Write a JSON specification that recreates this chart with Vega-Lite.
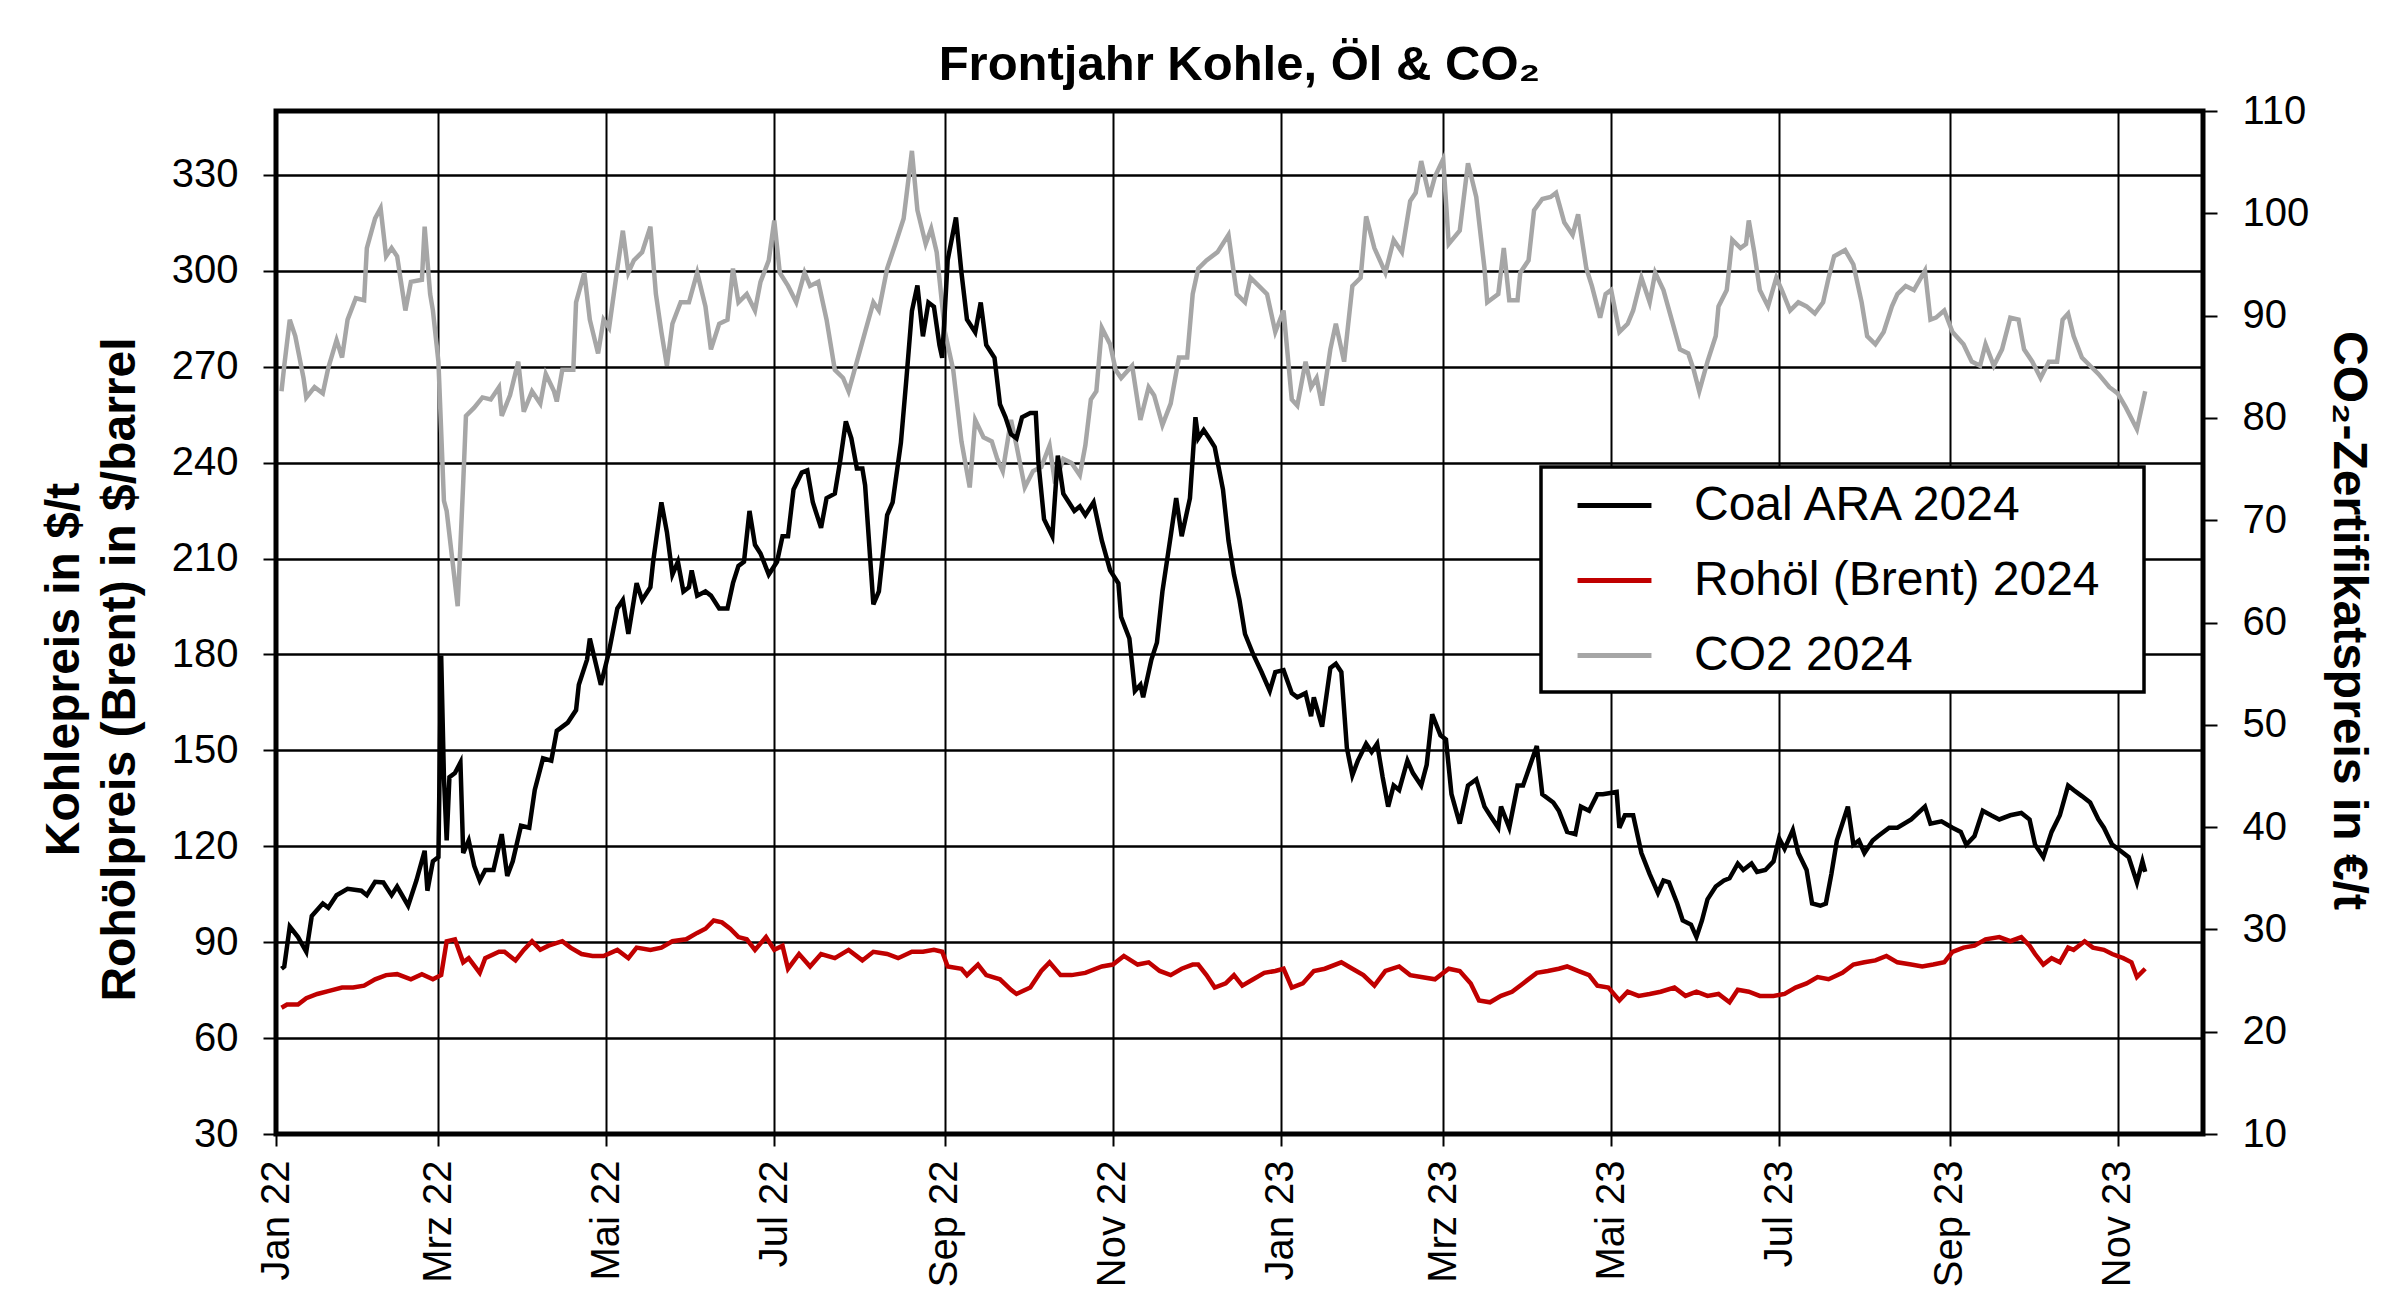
{
  "$schema": "https://vega.github.io/schema/vega-lite/v6.json",
  "width": 1927,
  "height": 1023,
  "autosize": {"type": "none"},
  "padding": {"left": 276, "top": 111, "right": 197, "bottom": 177},
  "background": "#ffffff",
  "title": {
    "text": "Frontjahr Kohle, Öl & CO₂",
    "font": "Liberation Sans",
    "fontSize": 49,
    "fontWeight": "bold",
    "color": "#000000",
    "anchor": "middle",
    "baseline": "alphabetic",
    "offset": 33,
    "dy": 71
  },
  "datasets": {
    "co2": [
      {"date": "2022-01-03", "value": 82.6}, {"date": "2022-01-04", "value": 85.1}, {"date": "2022-01-06", "value": 89.6},
      {"date": "2022-01-08", "value": 88}, {"date": "2022-01-11", "value": 83.9}, {"date": "2022-01-12", "value": 82},
      {"date": "2022-01-15", "value": 83}, {"date": "2022-01-18", "value": 82.4}, {"date": "2022-01-20", "value": 84.9},
      {"date": "2022-01-23", "value": 87.6}, {"date": "2022-01-25", "value": 85.9}, {"date": "2022-01-27", "value": 89.6},
      {"date": "2022-01-30", "value": 91.7}, {"date": "2022-02-02", "value": 91.5}, {"date": "2022-02-03", "value": 96.6},
      {"date": "2022-02-06", "value": 99.5}, {"date": "2022-02-08", "value": 100.5}, {"date": "2022-02-10", "value": 95.8},
      {"date": "2022-02-12", "value": 96.6}, {"date": "2022-02-14", "value": 95.8}, {"date": "2022-02-17", "value": 90.5},
      {"date": "2022-02-19", "value": 93.3}, {"date": "2022-02-23", "value": 93.5}, {"date": "2022-02-24", "value": 98.7},
      {"date": "2022-02-26", "value": 92.1}, {"date": "2022-02-27", "value": 90.5}, {"date": "2022-03-01", "value": 85.5},
      {"date": "2022-03-03", "value": 71.9}, {"date": "2022-03-04", "value": 70.9}, {"date": "2022-03-08", "value": 61.6},
      {"date": "2022-03-10", "value": 73.6}, {"date": "2022-03-11", "value": 80.2}, {"date": "2022-03-14", "value": 81},
      {"date": "2022-03-17", "value": 82}, {"date": "2022-03-20", "value": 81.8}, {"date": "2022-03-23", "value": 83},
      {"date": "2022-03-24", "value": 80.2}, {"date": "2022-03-27", "value": 82.2}, {"date": "2022-03-30", "value": 85.5},
      {"date": "2022-04-01", "value": 80.6}, {"date": "2022-04-04", "value": 82.6}, {"date": "2022-04-07", "value": 81.4},
      {"date": "2022-04-09", "value": 84.3}, {"date": "2022-04-12", "value": 82.6}, {"date": "2022-04-13", "value": 81.6},
      {"date": "2022-04-15", "value": 84.7}, {"date": "2022-04-19", "value": 84.7}, {"date": "2022-04-20", "value": 91.3},
      {"date": "2022-04-23", "value": 94.2}, {"date": "2022-04-25", "value": 89.6}, {"date": "2022-04-28", "value": 86.3},
      {"date": "2022-04-30", "value": 89.6}, {"date": "2022-05-02", "value": 88.8}, {"date": "2022-05-05", "value": 94.6},
      {"date": "2022-05-07", "value": 98.3}, {"date": "2022-05-09", "value": 94.2}, {"date": "2022-05-11", "value": 95.4},
      {"date": "2022-05-14", "value": 96.2}, {"date": "2022-05-17", "value": 98.7}, {"date": "2022-05-19", "value": 92.1},
      {"date": "2022-05-21", "value": 88.4}, {"date": "2022-05-23", "value": 85.1}, {"date": "2022-05-25", "value": 89.2},
      {"date": "2022-05-28", "value": 91.3}, {"date": "2022-05-31", "value": 91.3}, {"date": "2022-06-03", "value": 94.2},
      {"date": "2022-06-06", "value": 90.9}, {"date": "2022-06-08", "value": 86.7}, {"date": "2022-06-11", "value": 89.2},
      {"date": "2022-06-14", "value": 89.6}, {"date": "2022-06-16", "value": 94.6}, {"date": "2022-06-18", "value": 91.3},
      {"date": "2022-06-21", "value": 92.1}, {"date": "2022-06-24", "value": 90.5}, {"date": "2022-06-26", "value": 93.3},
      {"date": "2022-06-29", "value": 95.4}, {"date": "2022-07-01", "value": 99.3}, {"date": "2022-07-03", "value": 94.2},
      {"date": "2022-07-06", "value": 92.9}, {"date": "2022-07-09", "value": 91.3}, {"date": "2022-07-12", "value": 94.2},
      {"date": "2022-07-14", "value": 92.9}, {"date": "2022-07-17", "value": 93.3}, {"date": "2022-07-20", "value": 89.6},
      {"date": "2022-07-23", "value": 84.7}, {"date": "2022-07-26", "value": 83.9}, {"date": "2022-07-28", "value": 82.6},
      {"date": "2022-07-31", "value": 85.5}, {"date": "2022-08-03", "value": 88.4}, {"date": "2022-08-06", "value": 91.3},
      {"date": "2022-08-08", "value": 90.5}, {"date": "2022-08-11", "value": 94.6}, {"date": "2022-08-14", "value": 97},
      {"date": "2022-08-17", "value": 99.5}, {"date": "2022-08-20", "value": 106.1}, {"date": "2022-08-22", "value": 100.3},
      {"date": "2022-08-25", "value": 97}, {"date": "2022-08-27", "value": 98.5}, {"date": "2022-08-29", "value": 96.2},
      {"date": "2022-09-01", "value": 88.4}, {"date": "2022-09-04", "value": 84.7}, {"date": "2022-09-07", "value": 77.7},
      {"date": "2022-09-10", "value": 73.2}, {"date": "2022-09-12", "value": 79.8}, {"date": "2022-09-15", "value": 78.1},
      {"date": "2022-09-18", "value": 77.7}, {"date": "2022-09-20", "value": 76}, {"date": "2022-09-22", "value": 74.8},
      {"date": "2022-09-25", "value": 79.8}, {"date": "2022-09-27", "value": 77.3}, {"date": "2022-09-30", "value": 73.2},
      {"date": "2022-10-03", "value": 74.8}, {"date": "2022-10-06", "value": 75.2}, {"date": "2022-10-09", "value": 77.3},
      {"date": "2022-10-11", "value": 73.6}, {"date": "2022-10-14", "value": 76}, {"date": "2022-10-17", "value": 75.6},
      {"date": "2022-10-20", "value": 74.4}, {"date": "2022-10-22", "value": 77.3}, {"date": "2022-10-24", "value": 81.8},
      {"date": "2022-10-26", "value": 82.6}, {"date": "2022-10-28", "value": 88.8}, {"date": "2022-10-31", "value": 87.2},
      {"date": "2022-11-02", "value": 84.7}, {"date": "2022-11-04", "value": 83.9}, {"date": "2022-11-08", "value": 85.1},
      {"date": "2022-11-11", "value": 79.8}, {"date": "2022-11-14", "value": 83}, {"date": "2022-11-16", "value": 82.2},
      {"date": "2022-11-19", "value": 79.3}, {"date": "2022-11-22", "value": 81.4}, {"date": "2022-11-25", "value": 85.9},
      {"date": "2022-11-28", "value": 85.9}, {"date": "2022-11-30", "value": 92.1}, {"date": "2022-12-02", "value": 94.6},
      {"date": "2022-12-05", "value": 95.4}, {"date": "2022-12-09", "value": 96.2}, {"date": "2022-12-13", "value": 97.9},
      {"date": "2022-12-16", "value": 92.1}, {"date": "2022-12-19", "value": 91.3}, {"date": "2022-12-21", "value": 93.7},
      {"date": "2022-12-24", "value": 92.9}, {"date": "2022-12-27", "value": 92.1}, {"date": "2022-12-30", "value": 88.4},
      {"date": "2023-01-02", "value": 90.5}, {"date": "2023-01-05", "value": 81.8}, {"date": "2023-01-07", "value": 81.2},
      {"date": "2023-01-10", "value": 85.5}, {"date": "2023-01-12", "value": 83}, {"date": "2023-01-14", "value": 83.9},
      {"date": "2023-01-16", "value": 81.2}, {"date": "2023-01-19", "value": 86.7}, {"date": "2023-01-21", "value": 89.2},
      {"date": "2023-01-24", "value": 85.5}, {"date": "2023-01-27", "value": 92.9}, {"date": "2023-01-30", "value": 93.7},
      {"date": "2023-02-01", "value": 99.7}, {"date": "2023-02-04", "value": 96.6}, {"date": "2023-02-08", "value": 94.2},
      {"date": "2023-02-11", "value": 97.4}, {"date": "2023-02-14", "value": 96.2}, {"date": "2023-02-17", "value": 101.2},
      {"date": "2023-02-19", "value": 102}, {"date": "2023-02-21", "value": 105.1}, {"date": "2023-02-24", "value": 101.6},
      {"date": "2023-02-26", "value": 103.6}, {"date": "2023-03-01", "value": 105.3}, {"date": "2023-03-03", "value": 97},
      {"date": "2023-03-07", "value": 98.3}, {"date": "2023-03-10", "value": 104.9}, {"date": "2023-03-13", "value": 101.6},
      {"date": "2023-03-16", "value": 94.6}, {"date": "2023-03-17", "value": 91.3}, {"date": "2023-03-21", "value": 92.1},
      {"date": "2023-03-23", "value": 96.6}, {"date": "2023-03-25", "value": 91.5}, {"date": "2023-03-28", "value": 91.5},
      {"date": "2023-03-29", "value": 94.2}, {"date": "2023-04-01", "value": 95.4}, {"date": "2023-04-03", "value": 100.3},
      {"date": "2023-04-06", "value": 101.4}, {"date": "2023-04-09", "value": 101.6}, {"date": "2023-04-11", "value": 102},
      {"date": "2023-04-14", "value": 99.1}, {"date": "2023-04-17", "value": 97.9}, {"date": "2023-04-19", "value": 99.9},
      {"date": "2023-04-22", "value": 94.6}, {"date": "2023-04-24", "value": 92.9}, {"date": "2023-04-27", "value": 89.8},
      {"date": "2023-04-29", "value": 92.1}, {"date": "2023-05-01", "value": 92.5}, {"date": "2023-05-04", "value": 88.4},
      {"date": "2023-05-07", "value": 89.2}, {"date": "2023-05-09", "value": 90.5}, {"date": "2023-05-12", "value": 93.7},
      {"date": "2023-05-15", "value": 91.3}, {"date": "2023-05-17", "value": 94.2}, {"date": "2023-05-20", "value": 92.5},
      {"date": "2023-05-23", "value": 89.6}, {"date": "2023-05-26", "value": 86.7}, {"date": "2023-05-29", "value": 86.3},
      {"date": "2023-05-31", "value": 84.7}, {"date": "2023-06-02", "value": 82.6}, {"date": "2023-06-05", "value": 85.5},
      {"date": "2023-06-08", "value": 88}, {"date": "2023-06-09", "value": 90.9}, {"date": "2023-06-12", "value": 92.5},
      {"date": "2023-06-14", "value": 97.4}, {"date": "2023-06-17", "value": 96.6}, {"date": "2023-06-19", "value": 97},
      {"date": "2023-06-20", "value": 99.3}, {"date": "2023-06-22", "value": 96.2}, {"date": "2023-06-24", "value": 92.5},
      {"date": "2023-06-27", "value": 90.9}, {"date": "2023-06-30", "value": 93.7}, {"date": "2023-07-02", "value": 92.5},
      {"date": "2023-07-05", "value": 90.5}, {"date": "2023-07-08", "value": 91.3}, {"date": "2023-07-11", "value": 90.9},
      {"date": "2023-07-14", "value": 90.2}, {"date": "2023-07-17", "value": 91.3}, {"date": "2023-07-19", "value": 93.7},
      {"date": "2023-07-21", "value": 95.8}, {"date": "2023-07-25", "value": 96.4}, {"date": "2023-07-28", "value": 95},
      {"date": "2023-07-31", "value": 91.3}, {"date": "2023-08-02", "value": 88}, {"date": "2023-08-05", "value": 87.2},
      {"date": "2023-08-08", "value": 88.4}, {"date": "2023-08-11", "value": 90.9}, {"date": "2023-08-13", "value": 92.1},
      {"date": "2023-08-16", "value": 92.9}, {"date": "2023-08-19", "value": 92.5}, {"date": "2023-08-23", "value": 94.4},
      {"date": "2023-08-25", "value": 89.6}, {"date": "2023-08-27", "value": 89.8}, {"date": "2023-08-30", "value": 90.5},
      {"date": "2023-09-02", "value": 88.4}, {"date": "2023-09-06", "value": 87.2}, {"date": "2023-09-09", "value": 85.5},
      {"date": "2023-09-12", "value": 85.1}, {"date": "2023-09-14", "value": 87.2}, {"date": "2023-09-17", "value": 85.1},
      {"date": "2023-09-20", "value": 86.7}, {"date": "2023-09-23", "value": 89.8}, {"date": "2023-09-26", "value": 89.6},
      {"date": "2023-09-28", "value": 86.7}, {"date": "2023-10-01", "value": 85.5}, {"date": "2023-10-04", "value": 83.9},
      {"date": "2023-10-07", "value": 85.5}, {"date": "2023-10-10", "value": 85.5}, {"date": "2023-10-12", "value": 89.6},
      {"date": "2023-10-14", "value": 90.2}, {"date": "2023-10-16", "value": 88}, {"date": "2023-10-19", "value": 85.9},
      {"date": "2023-10-22", "value": 85.1}, {"date": "2023-10-25", "value": 84.3}, {"date": "2023-10-29", "value": 83},
      {"date": "2023-11-01", "value": 82.4}, {"date": "2023-11-04", "value": 81}, {"date": "2023-11-08", "value": 78.9},
      {"date": "2023-11-11", "value": 82.6}
    ],
    "coal": [
      {"date": "2022-01-03", "value": 81.7}, {"date": "2022-01-04", "value": 82.4}, {"date": "2022-01-06", "value": 94.9},
      {"date": "2022-01-09", "value": 91.6}, {"date": "2022-01-12", "value": 87}, {"date": "2022-01-14", "value": 98.2},
      {"date": "2022-01-18", "value": 102.1}, {"date": "2022-01-20", "value": 100.8}, {"date": "2022-01-23", "value": 104.7},
      {"date": "2022-01-27", "value": 106.7}, {"date": "2022-02-01", "value": 106.1}, {"date": "2022-02-03", "value": 104.7},
      {"date": "2022-02-06", "value": 108.9}, {"date": "2022-02-09", "value": 108.7}, {"date": "2022-02-12", "value": 104.7},
      {"date": "2022-02-14", "value": 107.4}, {"date": "2022-02-18", "value": 101.4}, {"date": "2022-02-21", "value": 109.3},
      {"date": "2022-02-24", "value": 118.6}, {"date": "2022-02-25", "value": 106.1}, {"date": "2022-02-27", "value": 115.3},
      {"date": "2022-03-01", "value": 116.6}, {"date": "2022-03-02", "value": 179.7}, {"date": "2022-03-03", "value": 141.6},
      {"date": "2022-03-04", "value": 121.8}, {"date": "2022-03-05", "value": 141.6}, {"date": "2022-03-07", "value": 142.9},
      {"date": "2022-03-09", "value": 146.2}, {"date": "2022-03-10", "value": 117.9}, {"date": "2022-03-12", "value": 121.8},
      {"date": "2022-03-14", "value": 113.9}, {"date": "2022-03-16", "value": 109.3}, {"date": "2022-03-18", "value": 112.6},
      {"date": "2022-03-21", "value": 112.6}, {"date": "2022-03-24", "value": 123.8}, {"date": "2022-03-26", "value": 110.7},
      {"date": "2022-03-28", "value": 115.3}, {"date": "2022-03-31", "value": 126.4}, {"date": "2022-04-03", "value": 125.8},
      {"date": "2022-04-05", "value": 137.6}, {"date": "2022-04-08", "value": 147.5}, {"date": "2022-04-11", "value": 146.8},
      {"date": "2022-04-13", "value": 156.1}, {"date": "2022-04-17", "value": 158.7}, {"date": "2022-04-20", "value": 162.6},
      {"date": "2022-04-21", "value": 170.5}, {"date": "2022-04-24", "value": 178.4}, {"date": "2022-04-25", "value": 185},
      {"date": "2022-04-29", "value": 170.5}, {"date": "2022-05-02", "value": 181}, {"date": "2022-05-05", "value": 194.4},
      {"date": "2022-05-07", "value": 197}, {"date": "2022-05-09", "value": 186.4}, {"date": "2022-05-12", "value": 202.3},
      {"date": "2022-05-14", "value": 197}, {"date": "2022-05-17", "value": 201}, {"date": "2022-05-18", "value": 209},
      {"date": "2022-05-21", "value": 227.6}, {"date": "2022-05-23", "value": 218.3}, {"date": "2022-05-25", "value": 205},
      {"date": "2022-05-27", "value": 209}, {"date": "2022-05-29", "value": 199.7}, {"date": "2022-05-31", "value": 201},
      {"date": "2022-06-01", "value": 206.3}, {"date": "2022-06-03", "value": 198.4}, {"date": "2022-06-06", "value": 199.7},
      {"date": "2022-06-08", "value": 198.4}, {"date": "2022-06-11", "value": 194.4}, {"date": "2022-06-14", "value": 194.4},
      {"date": "2022-06-16", "value": 202.3}, {"date": "2022-06-18", "value": 207.7}, {"date": "2022-06-20", "value": 209},
      {"date": "2022-06-22", "value": 224.9}, {"date": "2022-06-24", "value": 214.3}, {"date": "2022-06-26", "value": 211.6},
      {"date": "2022-06-29", "value": 205}, {"date": "2022-07-02", "value": 209}, {"date": "2022-07-04", "value": 217},
      {"date": "2022-07-06", "value": 217}, {"date": "2022-07-08", "value": 231.6}, {"date": "2022-07-11", "value": 236.9},
      {"date": "2022-07-13", "value": 237.6}, {"date": "2022-07-15", "value": 227.6}, {"date": "2022-07-18", "value": 219.6},
      {"date": "2022-07-20", "value": 228.9}, {"date": "2022-07-23", "value": 230.3}, {"date": "2022-07-25", "value": 240.9},
      {"date": "2022-07-27", "value": 252.9}, {"date": "2022-07-29", "value": 247.6}, {"date": "2022-07-31", "value": 238.2},
      {"date": "2022-08-02", "value": 238.2}, {"date": "2022-08-03", "value": 232.9}, {"date": "2022-08-06", "value": 195.7},
      {"date": "2022-08-08", "value": 199.7}, {"date": "2022-08-11", "value": 223.6}, {"date": "2022-08-13", "value": 227.6},
      {"date": "2022-08-16", "value": 246.2}, {"date": "2022-08-18", "value": 266.2}, {"date": "2022-08-20", "value": 287.4},
      {"date": "2022-08-22", "value": 295.4}, {"date": "2022-08-24", "value": 279.5}, {"date": "2022-08-26", "value": 290.1},
      {"date": "2022-08-28", "value": 288.8}, {"date": "2022-08-30", "value": 276.8}, {"date": "2022-08-31", "value": 272.8},
      {"date": "2022-09-02", "value": 303.4}, {"date": "2022-09-05", "value": 316.7}, {"date": "2022-09-07", "value": 299.4},
      {"date": "2022-09-09", "value": 284.8}, {"date": "2022-09-12", "value": 280.8}, {"date": "2022-09-14", "value": 290.1},
      {"date": "2022-09-16", "value": 276.8}, {"date": "2022-09-19", "value": 272.8}, {"date": "2022-09-21", "value": 258.2},
      {"date": "2022-09-23", "value": 254.2}, {"date": "2022-09-25", "value": 248.9}, {"date": "2022-09-27", "value": 247.6},
      {"date": "2022-09-29", "value": 254.2}, {"date": "2022-10-02", "value": 255.5}, {"date": "2022-10-04", "value": 255.5},
      {"date": "2022-10-05", "value": 239.6}, {"date": "2022-10-07", "value": 222.3}, {"date": "2022-10-10", "value": 217},
      {"date": "2022-10-12", "value": 242.2}, {"date": "2022-10-14", "value": 230.3}, {"date": "2022-10-16", "value": 227.6},
      {"date": "2022-10-18", "value": 224.9}, {"date": "2022-10-20", "value": 226.3}, {"date": "2022-10-22", "value": 223.6},
      {"date": "2022-10-25", "value": 227.6}, {"date": "2022-10-28", "value": 215.6}, {"date": "2022-10-31", "value": 206.3},
      {"date": "2022-11-03", "value": 202.3}, {"date": "2022-11-04", "value": 191.7}, {"date": "2022-11-07", "value": 185},
      {"date": "2022-11-09", "value": 168.6}, {"date": "2022-11-11", "value": 170.5}, {"date": "2022-11-12", "value": 166.6},
      {"date": "2022-11-15", "value": 178.4}, {"date": "2022-11-17", "value": 183.7}, {"date": "2022-11-19", "value": 199.7},
      {"date": "2022-11-22", "value": 217}, {"date": "2022-11-24", "value": 228.9}, {"date": "2022-11-26", "value": 217},
      {"date": "2022-11-29", "value": 228.9}, {"date": "2022-12-01", "value": 254.2}, {"date": "2022-12-02", "value": 247.6},
      {"date": "2022-12-04", "value": 250.2}, {"date": "2022-12-06", "value": 247.6}, {"date": "2022-12-08", "value": 244.9},
      {"date": "2022-12-11", "value": 231.6}, {"date": "2022-12-13", "value": 215.6}, {"date": "2022-12-15", "value": 205},
      {"date": "2022-12-17", "value": 197}, {"date": "2022-12-19", "value": 186.4}, {"date": "2022-12-22", "value": 180},
      {"date": "2022-12-25", "value": 174.5}, {"date": "2022-12-28", "value": 168.6}, {"date": "2022-12-30", "value": 174.5},
      {"date": "2023-01-02", "value": 175.1}, {"date": "2023-01-05", "value": 167.9}, {"date": "2023-01-07", "value": 166.6},
      {"date": "2023-01-10", "value": 167.9}, {"date": "2023-01-12", "value": 160.7}, {"date": "2023-01-13", "value": 166.6},
      {"date": "2023-01-16", "value": 157.4}, {"date": "2023-01-19", "value": 175.8}, {"date": "2023-01-21", "value": 177.1},
      {"date": "2023-01-23", "value": 174.5}, {"date": "2023-01-25", "value": 150.8}, {"date": "2023-01-27", "value": 142.2},
      {"date": "2023-01-29", "value": 146.8}, {"date": "2023-02-01", "value": 152.1}, {"date": "2023-02-03", "value": 149.5},
      {"date": "2023-02-05", "value": 152.1}, {"date": "2023-02-07", "value": 141.6}, {"date": "2023-02-09", "value": 132.4},
      {"date": "2023-02-11", "value": 139}, {"date": "2023-02-13", "value": 137.6}, {"date": "2023-02-16", "value": 146.8},
      {"date": "2023-02-18", "value": 142.9}, {"date": "2023-02-21", "value": 139}, {"date": "2023-02-23", "value": 145.5},
      {"date": "2023-02-25", "value": 161.3}, {"date": "2023-02-28", "value": 154.7}, {"date": "2023-03-02", "value": 153.4},
      {"date": "2023-03-04", "value": 136.3}, {"date": "2023-03-07", "value": 127.1}, {"date": "2023-03-10", "value": 139},
      {"date": "2023-03-13", "value": 140.9}, {"date": "2023-03-16", "value": 132.4}, {"date": "2023-03-18", "value": 129.7},
      {"date": "2023-03-21", "value": 125.8}, {"date": "2023-03-22", "value": 132.4}, {"date": "2023-03-25", "value": 125.8},
      {"date": "2023-03-28", "value": 139}, {"date": "2023-03-30", "value": 139}, {"date": "2023-04-04", "value": 151.4},
      {"date": "2023-04-06", "value": 136.3}, {"date": "2023-04-10", "value": 133.7}, {"date": "2023-04-12", "value": 131.1},
      {"date": "2023-04-15", "value": 124.5}, {"date": "2023-04-18", "value": 123.8}, {"date": "2023-04-20", "value": 132.4},
      {"date": "2023-04-23", "value": 131.1}, {"date": "2023-04-26", "value": 136.3}, {"date": "2023-04-28", "value": 136.3},
      {"date": "2023-05-03", "value": 137}, {"date": "2023-05-04", "value": 125.8}, {"date": "2023-05-06", "value": 129.7},
      {"date": "2023-05-09", "value": 129.7}, {"date": "2023-05-12", "value": 117.9}, {"date": "2023-05-15", "value": 111.3},
      {"date": "2023-05-18", "value": 105.4}, {"date": "2023-05-20", "value": 109.3}, {"date": "2023-05-22", "value": 108.7},
      {"date": "2023-05-25", "value": 102.1}, {"date": "2023-05-27", "value": 96.8}, {"date": "2023-05-30", "value": 95.5},
      {"date": "2023-06-01", "value": 91.6}, {"date": "2023-06-03", "value": 96.8}, {"date": "2023-06-05", "value": 103.4},
      {"date": "2023-06-08", "value": 107.4}, {"date": "2023-06-11", "value": 109.3}, {"date": "2023-06-13", "value": 110},
      {"date": "2023-06-16", "value": 114.6}, {"date": "2023-06-18", "value": 112.6}, {"date": "2023-06-21", "value": 114.6},
      {"date": "2023-06-23", "value": 112}, {"date": "2023-06-26", "value": 112.6}, {"date": "2023-06-29", "value": 115.3},
      {"date": "2023-07-01", "value": 122.5}, {"date": "2023-07-03", "value": 119.2}, {"date": "2023-07-06", "value": 125.1},
      {"date": "2023-07-08", "value": 117.9}, {"date": "2023-07-11", "value": 112.6}, {"date": "2023-07-13", "value": 102.1},
      {"date": "2023-07-16", "value": 101.4}, {"date": "2023-07-18", "value": 102.1}, {"date": "2023-07-20", "value": 111.3},
      {"date": "2023-07-22", "value": 121.8}, {"date": "2023-07-26", "value": 132.4}, {"date": "2023-07-28", "value": 120.5},
      {"date": "2023-07-30", "value": 121.8}, {"date": "2023-08-01", "value": 117.9}, {"date": "2023-08-04", "value": 121.8},
      {"date": "2023-08-06", "value": 123.2}, {"date": "2023-08-10", "value": 125.8}, {"date": "2023-08-13", "value": 125.8},
      {"date": "2023-08-18", "value": 128.4}, {"date": "2023-08-23", "value": 132.4}, {"date": "2023-08-25", "value": 127.1},
      {"date": "2023-08-29", "value": 127.8}, {"date": "2023-09-02", "value": 125.8}, {"date": "2023-09-05", "value": 124.5},
      {"date": "2023-09-07", "value": 120.5}, {"date": "2023-09-10", "value": 123.2}, {"date": "2023-09-13", "value": 131.1},
      {"date": "2023-09-16", "value": 129.7}, {"date": "2023-09-19", "value": 128.4}, {"date": "2023-09-23", "value": 129.7},
      {"date": "2023-09-27", "value": 130.4}, {"date": "2023-09-30", "value": 128.4}, {"date": "2023-10-02", "value": 120.5},
      {"date": "2023-10-05", "value": 116.6}, {"date": "2023-10-08", "value": 124.5}, {"date": "2023-10-11", "value": 129.7},
      {"date": "2023-10-14", "value": 139}, {"date": "2023-10-16", "value": 137.6}, {"date": "2023-10-19", "value": 135.7},
      {"date": "2023-10-22", "value": 133.7}, {"date": "2023-10-25", "value": 128.4}, {"date": "2023-10-27", "value": 125.8},
      {"date": "2023-10-30", "value": 120.5}, {"date": "2023-11-02", "value": 118.6}, {"date": "2023-11-05", "value": 116.6},
      {"date": "2023-11-08", "value": 108.7}, {"date": "2023-11-10", "value": 115.3}, {"date": "2023-11-11", "value": 112}
    ],
    "oil": [
      {"date": "2022-01-03", "value": 69.5}, {"date": "2022-01-05", "value": 70.5}, {"date": "2022-01-09", "value": 70.5},
      {"date": "2022-01-12", "value": 72.5}, {"date": "2022-01-16", "value": 73.8}, {"date": "2022-01-20", "value": 74.7},
      {"date": "2022-01-25", "value": 75.8}, {"date": "2022-01-29", "value": 75.8}, {"date": "2022-02-02", "value": 76.4},
      {"date": "2022-02-06", "value": 78.4}, {"date": "2022-02-10", "value": 79.7}, {"date": "2022-02-14", "value": 80},
      {"date": "2022-02-19", "value": 78.4}, {"date": "2022-02-23", "value": 80}, {"date": "2022-02-27", "value": 78.4},
      {"date": "2022-03-02", "value": 79.7}, {"date": "2022-03-04", "value": 90.3}, {"date": "2022-03-07", "value": 90.9},
      {"date": "2022-03-10", "value": 83.7}, {"date": "2022-03-12", "value": 85}, {"date": "2022-03-16", "value": 80.4},
      {"date": "2022-03-18", "value": 85}, {"date": "2022-03-23", "value": 87}, {"date": "2022-03-25", "value": 87},
      {"date": "2022-03-29", "value": 84.3}, {"date": "2022-04-01", "value": 87.6}, {"date": "2022-04-04", "value": 90.3},
      {"date": "2022-04-07", "value": 87.6}, {"date": "2022-04-10", "value": 88.9}, {"date": "2022-04-15", "value": 90.3},
      {"date": "2022-04-18", "value": 88.3}, {"date": "2022-04-22", "value": 86.3}, {"date": "2022-04-26", "value": 85.7},
      {"date": "2022-04-30", "value": 85.7}, {"date": "2022-05-05", "value": 87.6}, {"date": "2022-05-09", "value": 85},
      {"date": "2022-05-12", "value": 88.3}, {"date": "2022-05-17", "value": 87.6}, {"date": "2022-05-21", "value": 88.3},
      {"date": "2022-05-25", "value": 90.3}, {"date": "2022-05-30", "value": 90.9}, {"date": "2022-06-03", "value": 92.9},
      {"date": "2022-06-06", "value": 94.2}, {"date": "2022-06-09", "value": 96.8}, {"date": "2022-06-12", "value": 96.2},
      {"date": "2022-06-15", "value": 94.2}, {"date": "2022-06-18", "value": 91.6}, {"date": "2022-06-21", "value": 90.9},
      {"date": "2022-06-24", "value": 87.6}, {"date": "2022-06-28", "value": 91.6}, {"date": "2022-07-01", "value": 87.6},
      {"date": "2022-07-04", "value": 88.9}, {"date": "2022-07-06", "value": 81.7}, {"date": "2022-07-10", "value": 86.3},
      {"date": "2022-07-14", "value": 82.4}, {"date": "2022-07-18", "value": 86.3}, {"date": "2022-07-23", "value": 85},
      {"date": "2022-07-28", "value": 87.6}, {"date": "2022-08-02", "value": 84.3}, {"date": "2022-08-06", "value": 87},
      {"date": "2022-08-11", "value": 86.3}, {"date": "2022-08-15", "value": 85}, {"date": "2022-08-20", "value": 87},
      {"date": "2022-08-24", "value": 87}, {"date": "2022-08-28", "value": 87.6}, {"date": "2022-08-31", "value": 87},
      {"date": "2022-09-02", "value": 82.4}, {"date": "2022-09-07", "value": 81.7}, {"date": "2022-09-09", "value": 79.7},
      {"date": "2022-09-13", "value": 83}, {"date": "2022-09-16", "value": 79.7}, {"date": "2022-09-21", "value": 78.4},
      {"date": "2022-09-25", "value": 75.1}, {"date": "2022-09-27", "value": 73.8}, {"date": "2022-10-02", "value": 75.8},
      {"date": "2022-10-06", "value": 81}, {"date": "2022-10-09", "value": 83.7}, {"date": "2022-10-13", "value": 79.7},
      {"date": "2022-10-17", "value": 79.7}, {"date": "2022-10-22", "value": 80.4}, {"date": "2022-10-28", "value": 82.4},
      {"date": "2022-11-01", "value": 83}, {"date": "2022-11-05", "value": 85.7}, {"date": "2022-11-10", "value": 83},
      {"date": "2022-11-14", "value": 83.7}, {"date": "2022-11-18", "value": 81}, {"date": "2022-11-22", "value": 79.7},
      {"date": "2022-11-26", "value": 81.7}, {"date": "2022-11-30", "value": 83}, {"date": "2022-12-02", "value": 83},
      {"date": "2022-12-05", "value": 79.7}, {"date": "2022-12-08", "value": 75.8}, {"date": "2022-12-12", "value": 77.1},
      {"date": "2022-12-15", "value": 79.7}, {"date": "2022-12-18", "value": 76.4}, {"date": "2022-12-22", "value": 78.4},
      {"date": "2022-12-26", "value": 80.4}, {"date": "2022-12-30", "value": 81}, {"date": "2023-01-02", "value": 81.7},
      {"date": "2023-01-05", "value": 75.8}, {"date": "2023-01-09", "value": 77.1}, {"date": "2023-01-13", "value": 81},
      {"date": "2023-01-17", "value": 81.7}, {"date": "2023-01-23", "value": 83.7}, {"date": "2023-01-27", "value": 81.7},
      {"date": "2023-01-31", "value": 79.7}, {"date": "2023-02-04", "value": 76.4}, {"date": "2023-02-08", "value": 81},
      {"date": "2023-02-13", "value": 82.4}, {"date": "2023-02-17", "value": 79.7}, {"date": "2023-02-21", "value": 79.1},
      {"date": "2023-02-26", "value": 78.4}, {"date": "2023-03-03", "value": 81.7}, {"date": "2023-03-07", "value": 81},
      {"date": "2023-03-11", "value": 77.1}, {"date": "2023-03-14", "value": 71.8}, {"date": "2023-03-18", "value": 71.2},
      {"date": "2023-03-22", "value": 73.2}, {"date": "2023-03-26", "value": 74.5}, {"date": "2023-03-30", "value": 77.1},
      {"date": "2023-04-04", "value": 80.4}, {"date": "2023-04-08", "value": 81}, {"date": "2023-04-12", "value": 81.7},
      {"date": "2023-04-15", "value": 82.4}, {"date": "2023-04-19", "value": 81}, {"date": "2023-04-23", "value": 79.7},
      {"date": "2023-04-26", "value": 76.4}, {"date": "2023-04-30", "value": 75.8}, {"date": "2023-05-04", "value": 71.8},
      {"date": "2023-05-07", "value": 74.5}, {"date": "2023-05-11", "value": 73.2}, {"date": "2023-05-15", "value": 73.8},
      {"date": "2023-05-19", "value": 74.5}, {"date": "2023-05-24", "value": 75.8}, {"date": "2023-05-28", "value": 73.2},
      {"date": "2023-06-01", "value": 74.5}, {"date": "2023-06-05", "value": 73.2}, {"date": "2023-06-09", "value": 73.8},
      {"date": "2023-06-13", "value": 71.2}, {"date": "2023-06-16", "value": 75.1}, {"date": "2023-06-20", "value": 74.5},
      {"date": "2023-06-24", "value": 73.2}, {"date": "2023-06-29", "value": 73.2}, {"date": "2023-07-03", "value": 73.8},
      {"date": "2023-07-07", "value": 75.8}, {"date": "2023-07-11", "value": 77.1}, {"date": "2023-07-15", "value": 79.1},
      {"date": "2023-07-19", "value": 78.4}, {"date": "2023-07-24", "value": 80.4}, {"date": "2023-07-28", "value": 83},
      {"date": "2023-08-01", "value": 83.7}, {"date": "2023-08-05", "value": 84.3}, {"date": "2023-08-09", "value": 85.7},
      {"date": "2023-08-13", "value": 83.7}, {"date": "2023-08-18", "value": 83}, {"date": "2023-08-22", "value": 82.4},
      {"date": "2023-08-26", "value": 83}, {"date": "2023-08-30", "value": 83.7}, {"date": "2023-09-02", "value": 87},
      {"date": "2023-09-06", "value": 88.3}, {"date": "2023-09-10", "value": 88.9}, {"date": "2023-09-14", "value": 90.9},
      {"date": "2023-09-19", "value": 91.6}, {"date": "2023-09-23", "value": 90.3}, {"date": "2023-09-27", "value": 91.6},
      {"date": "2023-09-30", "value": 88.9}, {"date": "2023-10-02", "value": 86.3}, {"date": "2023-10-05", "value": 83},
      {"date": "2023-10-08", "value": 85}, {"date": "2023-10-11", "value": 83.7}, {"date": "2023-10-14", "value": 88.3},
      {"date": "2023-10-16", "value": 87.6}, {"date": "2023-10-20", "value": 90.3}, {"date": "2023-10-23", "value": 88.3},
      {"date": "2023-10-27", "value": 87.6}, {"date": "2023-10-30", "value": 86.3}, {"date": "2023-11-03", "value": 85},
      {"date": "2023-11-06", "value": 83.7}, {"date": "2023-11-08", "value": 79.1}, {"date": "2023-11-11", "value": 81.7}
    ]
  },
  "encoding": {
    "x": {
      "field": "date",
      "type": "temporal",
      "title": null,
      "scale": {
        "type": "utc",
        "domain": [
          {"year": 2022, "month": 1, "date": 1, "utc": true},
          {"year": 2023, "month": 12, "date": 2, "utc": true}
        ]
      },
      "axis": {
        "values": [
          {"year": 2022, "month": 1, "date": 1, "utc": true},
          {"year": 2022, "month": 3, "date": 1, "utc": true},
          {"year": 2022, "month": 5, "date": 1, "utc": true},
          {"year": 2022, "month": 7, "date": 1, "utc": true},
          {"year": 2022, "month": 9, "date": 1, "utc": true},
          {"year": 2022, "month": 11, "date": 1, "utc": true},
          {"year": 2023, "month": 1, "date": 1, "utc": true},
          {"year": 2023, "month": 3, "date": 1, "utc": true},
          {"year": 2023, "month": 5, "date": 1, "utc": true},
          {"year": 2023, "month": 7, "date": 1, "utc": true},
          {"year": 2023, "month": 9, "date": 1, "utc": true},
          {"year": 2023, "month": 11, "date": 1, "utc": true}
        ],
        "labelExpr": "['Jan','Feb','Mrz','Apr','Mai','Jun','Jul','Aug','Sep','Okt','Nov','Dez'][utcmonth(datum.value)] + ' ' + utcFormat(datum.value, '%y')",
        "labelAngle": 270,
        "labelAlign": "right",
        "labelBaseline": "middle",
        "labelFontSize": 40,
        "labelPadding": 14,
        "tickSize": 12,
        "tickWidth": 2,
        "grid": true,
        "gridColor": "#000000",
        "gridWidth": 2
      }
    }
  },
  "layer": [
    {
      "data": {"name": "co2"},
      "mark": {"type": "line", "strokeWidth": 4.5},
      "encoding": {
        "y": {
          "field": "value",
          "type": "quantitative",
          "title": "CO₂-Zertifikatspreis in €/t",
          "scale": {"domain": [10, 110], "nice": false, "zero": false},
          "axis": {
            "orient": "right",
            "values": [10, 20, 30, 40, 50, 60, 70, 80, 90, 100, 110],
            "grid": false,
            "tickSize": 14,
            "tickWidth": 2,
            "labelPadding": 25,
            "labelFontSize": 40,
            "titleFontSize": 48,
            "titleFontWeight": "bold",
            "titleAngle": 90,
            "titleAlign": "center",
            "titleBaseline": "alphabetic",
            "titleX": 130,
            "titleY": 509
          }
        },
        "color": {
          "datum": "CO2 2024",
          "type": "nominal",
          "scale": {
            "domain": ["Coal ARA 2024", "Rohöl (Brent) 2024", "CO2 2024"],
            "range": ["#000000", "#c00000", "#a6a6a6"]
          },
          "legend": {"title": " "}
        }
      }
    },
    {
      "layer": [
        {
          "data": {"name": "coal"},
          "mark": {"type": "line", "strokeWidth": 4.5},
          "encoding": {
            "y": {
              "field": "value",
              "type": "quantitative",
              "title": ["Kohlepreis in $/t", "Rohölpreis (Brent) in $/barrel"],
              "scale": {"domain": [30, 350], "nice": false, "zero": false},
              "axis": {
                "orient": "left",
                "values": [30, 60, 90, 120, 150, 180, 210, 240, 270, 300, 330],
                "grid": true,
                "gridColor": "#000000",
                "gridWidth": 2.5,
                "tickSize": 13,
                "tickWidth": 2,
                "labelPadding": 25,
                "labelFontSize": 40,
                "titleFontSize": 48,
                "titleFontWeight": "bold",
                "titleAngle": 270,
                "titleAlign": "center",
                "titleBaseline": "alphabetic",
                "titleLineHeight": 56,
                "titleX": -198,
                "titleY": 558
              }
            },
            "color": {
              "datum": "Coal ARA 2024",
              "type": "nominal",
              "scale": {
                "domain": ["Coal ARA 2024", "Rohöl (Brent) 2024", "CO2 2024"],
                "range": ["#000000", "#c00000", "#a6a6a6"]
              },
              "legend": {"title": " "}
            }
          }
        },
        {
          "data": {"name": "oil"},
          "mark": {"type": "line", "strokeWidth": 4.5},
          "encoding": {
            "y": {
              "field": "value",
              "type": "quantitative",
              "title": ["Kohlepreis in $/t", "Rohölpreis (Brent) in $/barrel"],
              "scale": {"domain": [30, 350], "nice": false, "zero": false}
            },
            "color": {
              "datum": "Rohöl (Brent) 2024",
              "type": "nominal",
              "scale": {
                "domain": ["Coal ARA 2024", "Rohöl (Brent) 2024", "CO2 2024"],
                "range": ["#000000", "#c00000", "#a6a6a6"]
              },
              "legend": {"title": " "}
            }
          }
        }
      ]
    }
  ],
  "resolve": {"scale": {"y": "independent"}},
  "config": {
    "font": "Liberation Sans",
    "view": {"stroke": "#000000", "strokeWidth": 5},
    "axis": {
      "domain": false,
      "labelColor": "#000000",
      "labelFont": "Liberation Sans",
      "titleColor": "#000000",
      "titleFont": "Liberation Sans",
      "tickColor": "#000000"
    },
    "legend": {
      "orient": "none",
      "legendX": 1265,
      "legendY": 356,
      "padding": 12,
      "rowPadding": 24,
      "symbolType": "M-1.54,0H1.54",
      "symbolSize": 2304,
      "symbolStrokeWidth": 5,
      "symbolOffset": 35,
      "labelOffset": 53,
      "labelFontSize": 48,
      "labelFont": "Liberation Sans",
      "labelColor": "#000000",
      "labelLimit": 0,
      "strokeColor": "#000000",
      "strokeWidth": 3.5,
      "fillColor": "#ffffff",
      "titleOrient": "right",
      "titleFontSize": 1,
      "titlePadding": 32
    }
  }
}
